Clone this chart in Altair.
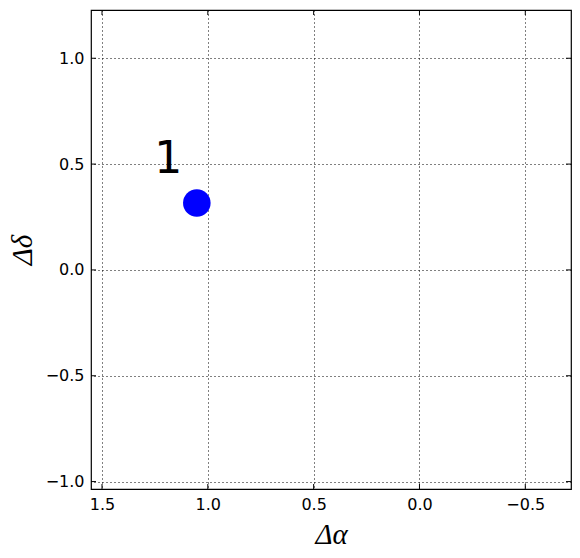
import altair as alt
import pandas as pd

# data
alpha = [1.052]
delta = [0.316]
label_alpha = [1.187]
label_delta = [0.46]
labels = ["1"]
x_ticks = [1.5, 1.0, 0.5, 0.0, -0.5]
y_ticks = [1.0, 0.5, 0.0, -0.5, -1.0]
x_domain = [-0.716, 1.552]
y_domain = [-1.035, 1.228]

W, H = 480, 479
TL = 5

pts = pd.DataFrame({"a": alpha, "d": delta})
lab = pd.DataFrame({"a": label_alpha, "d": label_delta, "t": labels})
xt = pd.DataFrame({"v": x_ticks})
yt = pd.DataFrame({"v": y_ticks})

xscale = alt.Scale(domain=x_domain, reverse=True, nice=False, zero=False)
yscale = alt.Scale(domain=y_domain, nice=False, zero=False)

xaxis = alt.Axis(values=x_ticks, format=".1f", grid=True, gridColor="black",
                 gridDash=[1, 3], gridWidth=1, gridOpacity=1, ticks=False,
                 domain=False, labelFont="DejaVu Sans", labelFontSize=16,
                 labelColor="black", labelPadding=7, title="Δα",
                 titleFont="Liberation Serif", titleFontStyle="italic",
                 titleFontWeight="normal", titleFontSize=29, titleColor="black",
                 titlePadding=8)
yaxis = alt.Axis(values=y_ticks, format=".1f", grid=True, gridColor="black",
                 gridDash=[1, 3], gridWidth=1, gridOpacity=1, ticks=False,
                 domain=False, labelFont="DejaVu Sans", labelFontSize=16,
                 labelColor="black", labelPadding=7, title="Δδ",
                 titleFont="Liberation Serif", titleFontStyle="italic",
                 titleFontWeight="normal", titleFontSize=29, titleColor="black",
                 titlePadding=8)

points = alt.Chart(pts).mark_circle(size=760, color="#0000ff", opacity=1).encode(
    x=alt.X("a:Q", scale=xscale, axis=xaxis),
    y=alt.Y("d:Q", scale=yscale, axis=yaxis),
)

text = alt.Chart(lab).mark_text(font="DejaVu Sans", fontSize=44, color="black",
                                align="center", baseline="alphabetic").encode(
    x=alt.X("a:Q", scale=xscale), y=alt.Y("d:Q", scale=yscale), text="t:N")

tk = dict(color="black", strokeWidth=1)
xb = alt.Chart(xt).mark_rule(**tk).encode(x=alt.X("v:Q", scale=xscale), y=alt.value(H), y2=alt.value(H - TL))
xtop = alt.Chart(xt).mark_rule(**tk).encode(x=alt.X("v:Q", scale=xscale), y=alt.value(0), y2=alt.value(TL))
yl = alt.Chart(yt).mark_rule(**tk).encode(y=alt.Y("v:Q", scale=yscale), x=alt.value(0), x2=alt.value(TL))
yr = alt.Chart(yt).mark_rule(**tk).encode(y=alt.Y("v:Q", scale=yscale), x=alt.value(W), x2=alt.value(W - TL))

chart = alt.layer(points, xb, xtop, yl, yr, text).properties(
    width=W, height=H,
    background="white",
    autosize=alt.AutoSizeParams(type="none"),
    padding={"left": 83, "top": 2, "right": 1, "bottom": 60},
).configure_view(stroke="black", strokeWidth=1.2)

chart.save("out.html", embed_options={"renderer": "svg", "actions": False})
